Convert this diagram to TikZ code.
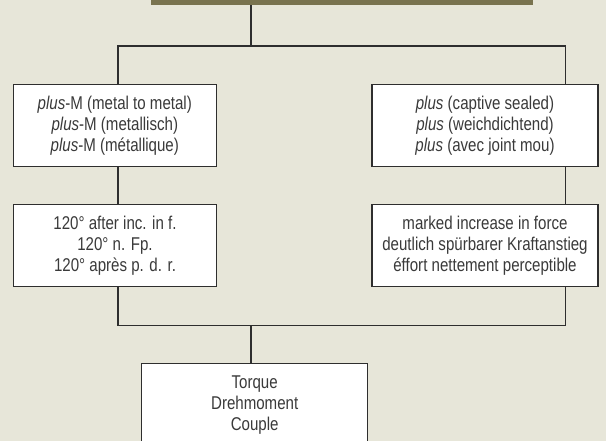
\documentclass[tikz,border=0pt]{standalone}
\usepackage{fontspec}
\setmainfont{Liberation Sans}[FakeStretch=0.815]
\usepackage{tikz}
\usetikzlibrary{positioning,calc}
\usepackage{xcolor}
\definecolor{paper}{HTML}{E7E6D9}
\definecolor{olive}{HTML}{79734F}
\definecolor{ink}{HTML}{2E2E2E}
\definecolor{txt}{HTML}{3A3A3A}

\begin{document}
\begin{tikzpicture}[
    x=1pt, y=-1pt,
    box/.style={rectangle, draw=ink, fill=white, line width=1.2pt, minimum height=82pt, inner sep=0pt, align=center, text=txt, font=\fontsize{18.5}{21}\selectfont},
    narrowbox/.style={box, minimum width=203pt},
    widebox/.style={box, minimum width=226pt},
    link/.style={draw=ink, line width=1.2pt}
]
    \useasboundingbox (0,0) rectangle (606,441);
    \fill[paper] (0,0) rectangle (606,441);
    \clip (0,0) rectangle (606,441);

    % Title (cut off at the top)
    \node[rectangle, fill=olive, minimum width=382pt, minimum height=30pt, inner sep=0pt] (title) at (342,-10) {};

    % Joint types
    \node[narrowbox] (metal) at (114.8,125.6) {\textit{plus}-M (metal to metal)\\\textit{plus}-M (metallisch)\\\textit{plus}-M (métallique)};
    \node[widebox] (soft) at (485,125.6) {\textit{plus} (captive sealed)\\\textit{plus} (weichdichtend)\\\textit{plus} (avec joint mou)};

    % Tightening
    \node[narrowbox] (angle) at (115,245.4) {120° after inc. in f.\\120° n. Fp.\\120° après p. d. r.};
    \node[widebox] (force) at (485,245.3) {marked increase in force\\deutlich spürbarer Kraftanstieg\\éffort nettement perceptible};

    % Result
    \node[widebox] (torque) at (254.7,404.7) {Torque\\Drehmoment\\Couple};

    % Branch points
    \coordinate (split) at (251,46);
    \coordinate (ltap) at (118,46);
    \coordinate (rtap) at (565.5,46);
    \coordinate (join) at (251,325.7);

    \draw[link] (title.south -| split) -- (split);
    \draw[link] (metal.north -| ltap) -- (ltap) -- (rtap) -- (soft.north -| rtap);
    \draw[link] (metal.south -| ltap) -- (angle.north -| ltap);
    \draw[link] (soft.south -| rtap) -- (force.north -| rtap);
    \draw[link] (angle.south -| ltap) -- (ltap |- join) -- (rtap |- join) -- (force.south -| rtap);
    \draw[link] (join) -- (torque.north -| join);
\end{tikzpicture}
\end{document}
